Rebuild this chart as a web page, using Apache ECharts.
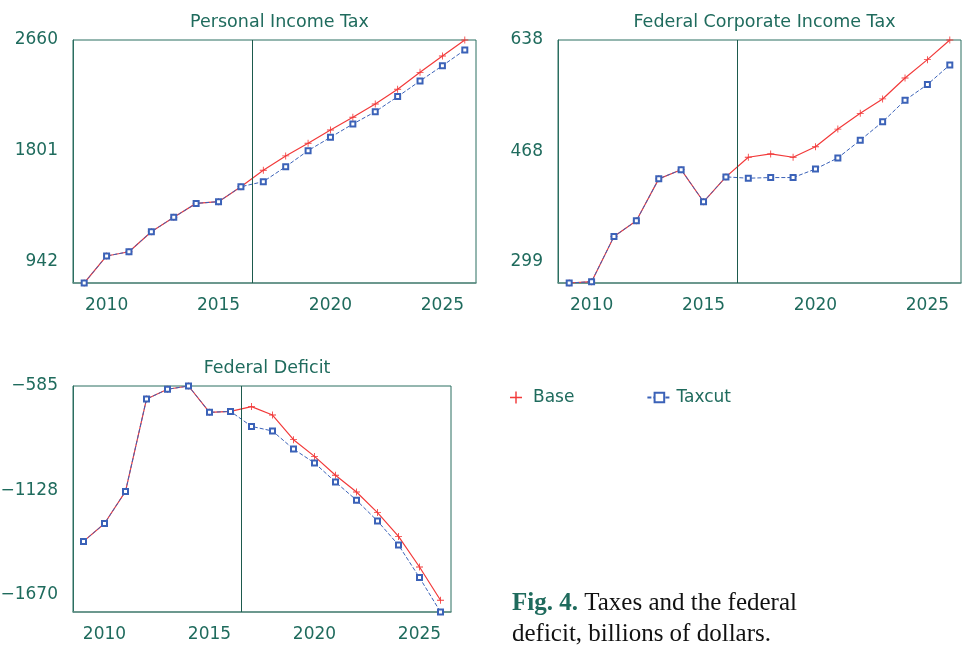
<!DOCTYPE html>
<html>
<head>
<meta charset="utf-8">
<script src="https://cdn.jsdelivr.net/npm/echarts@6/dist/echarts.min.js"></script>
<style>
  html, body { margin: 0; padding: 0; background: #fff; }
  #main { width: 966px; height: 655px; }
</style>
</head>
<body>
<div id="main"></div>
<script>
// years 2009..2026
var years = [2009, 2010, 2011, 2012, 2013, 2014, 2015, 2016, 2017, 2018, 2019, 2020, 2021, 2022, 2023, 2024, 2025, 2026];
var yearLabels = [2010, 2015, 2020, 2025];
var policyYear = 2016.5;

// Personal Income Tax
var pitBase   = [780, 989, 1022, 1177, 1288, 1396, 1409, 1525, 1652, 1763, 1861, 1964, 2062, 2165, 2279, 2410, 2536, 2660];
var pitTaxcut = [780, 989, 1022, 1177, 1288, 1396, 1409, 1525, 1564, 1680, 1804, 1907, 2010, 2105, 2222, 2343, 2461, 2583];
var pitTicks  = [942, 1801, 2660];

// Federal Corporate Income Tax
var citBase   = [267, 269, 338, 362, 426, 440, 391, 429, 459, 464, 459, 475, 502, 526, 548, 580, 608, 638];
var citTaxcut = [267, 269, 338, 362, 426, 440, 391, 429, 427, 428, 428, 441, 458, 485, 513, 546, 570, 600];
var citTicks  = [299, 468, 638];

// Federal Deficit
var defBase   = [-1393, -1300, -1133, -653, -602, -585, -722, -717, -692, -736, -864, -951, -1049, -1136, -1243, -1367, -1526, -1699];
var defTaxcut = [-1393, -1300, -1133, -653, -602, -585, -722, -717, -795, -819, -913, -985, -1084, -1179, -1287, -1412, -1581, -1760];
var defTicks  = [-585, -1128, -1670];

var teal = '#1f6b5d';
var axisCol = '#2b6e60';
var red = '#f23a3a';
var blue = '#3b62b8';
var plusPath = 'path://M-0.12,-1H0.12V-0.12H1V0.12H0.12V1H-0.12V0.12H-1V-0.12H-0.12Z';
var sans = 'DejaVu Sans';

function pairs(vals) {
  return years.map(function (y, i) { return [y, vals[i]]; });
}

var chart = echarts.init(document.getElementById('main'));

var grids = [
  { left: 73, top: 40, width: 403, height: 243 },
  { left: 558, top: 40, width: 403, height: 243 },
  { left: 73, top: 386, width: 378, height: 226 }
];
var ranges = [[780, 2660], [267, 638], [-1760, -585]];
var ticks = [pitTicks, citTicks, defTicks];
var titles = ['Personal Income Tax', 'Federal Corporate Income Tax', 'Federal Deficit'];
var seriesData = [[pitBase, pitTaxcut], [citBase, citTaxcut], [defBase, defTaxcut]];

var option = {
  animation: false,
  backgroundColor: '#fff',
  title: grids.map(function (g, i) {
    return {
      text: titles[i],
      left: g.left + g.width / 2,
      top: g.top - 32,
      textAlign: 'center',
      textStyle: { color: teal, fontFamily: sans, fontSize: 17.5, fontWeight: 'normal' }
    };
  }),
  grid: grids.map(function (g) {
    return { left: g.left, top: g.top, width: g.width, height: g.height,
      show: true, borderColor: axisCol, borderWidth: 1,
      containLabel: false, outerBoundsMode: 'none' };
  }),
  xAxis: grids.map(function (g, i) {
    return {
      type: 'value', gridIndex: i, min: 2008.5, max: 2026.5,
      axisLine: { show: true, lineStyle: { color: '#5f8f84', width: 1.5 } },
      axisTick: { show: false },
      splitLine: { show: false },
      axisLabel: { customValues: yearLabels, color: teal, fontFamily: sans, fontSize: 17, margin: 14,
        formatter: function (v) { return String(v); } }
    };
  }),
  yAxis: grids.map(function (g, i) {
    return {
      type: 'value', gridIndex: i, min: ranges[i][0], max: ranges[i][1],
      axisLine: { show: true, lineStyle: { color: axisCol } },
      axisTick: { show: false },
      splitLine: { show: false },
      axisLabel: {
        customValues: ticks[i], color: teal, fontFamily: sans, fontSize: 17, margin: 15,
        formatter: function (v) { return String(v).replace('-', '\u2212'); }
      }
    };
  }),
  legend: {
    left: 505, top: 384, itemWidth: 24, itemHeight: 12, itemGap: 72,
    textStyle: { color: teal, fontFamily: sans, fontSize: 17 },
    data: [
      { name: 'Base', icon: plusPath },
      { name: 'Taxcut' }
    ]
  },
  graphic: [{
    type: 'text', left: 512, top: 588,
    style: {
      text: '{b|Fig. 4.} Taxes and the federal\ndeficit, billions of dollars.',
      fill: '#111', font: '25px "Liberation Serif"', lineHeight: 31,
      rich: {
        b: { fill: teal, fontWeight: 'bold', fontFamily: 'Liberation Serif', fontSize: 25 }
      }
    }
  }],
  series: []
};

seriesData.forEach(function (sd, i) {
  option.series.push({
    name: 'Base', type: 'line', xAxisIndex: i, yAxisIndex: i,
    data: pairs(sd[0]),
    symbol: plusPath, symbolSize: 7,
    itemStyle: { color: red },
    lineStyle: { color: red, width: 1.2 },
    markLine: {
      silent: true, symbol: 'none', label: { show: false },
      lineStyle: { color: '#1d5a4d', type: 'solid', width: 1 },
      data: [{ xAxis: policyYear }]
    }
  });
  option.series.push({
    name: 'Taxcut', type: 'line', xAxisIndex: i, yAxisIndex: i,
    data: pairs(sd[1]),
    symbol: 'emptyRect', symbolSize: 5,
    itemStyle: { color: blue, borderWidth: 1.2 },
    lineStyle: { color: blue, width: 1, type: [4, 2] }
  });
});

chart.setOption(option);
</script>
</body>
</html>
